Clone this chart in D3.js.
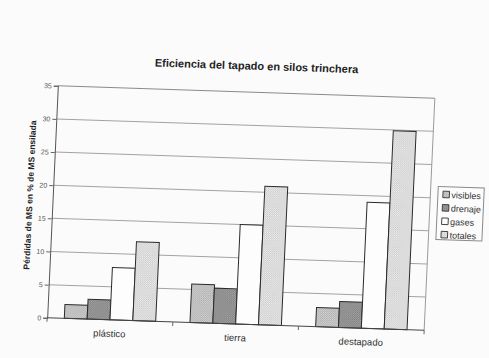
<!DOCTYPE html>
<html>
<head>
<meta charset="utf-8">
<script src="https://cdn.jsdelivr.net/npm/d3@7/dist/d3.min.js"></script>
<style>
  html, body { margin: 0; padding: 0; background: #fbfbfb; }
  svg { display: block; }
  text { font-family: "Liberation Sans", Arial, sans-serif; }
</style>
</head>
<body>
<script>
// Pérdidas de materia seca según el tipo de tapado del silo
const categories = ["plástico", "tierra", "destapado"];
const seriesNames = ["visibles", "drenaje", "gases", "totales"];
const visibles = [2.1, 5.8, 2.9];
const drenaje  = [3.0, 5.3, 3.9];
const gases    = [7.9, 15.0, 19.0];
const totales  = [11.9, 20.9, 29.9];
const yTicks   = [0, 5, 10, 15, 20, 25, 30, 35];

const seriesValues = [visibles, drenaje, gases, totales];

const W = 489, H = 358;
const plot = { left: 52.5, top: 92, width: 377, height: 232 };

const svg = d3.select("body").append("svg")
  .attr("width", W).attr("height", H);

// fill textures for the four series
const defs = svg.append("defs");
function stipple(id, base, dot, step) {
  const p = defs.append("pattern").attr("id", id)
    .attr("width", step).attr("height", step)
    .attr("patternUnits", "userSpaceOnUse");
  p.append("rect").attr("width", step).attr("height", step).attr("fill", base);
  p.append("rect").attr("x", 0).attr("y", 0).attr("width", 1).attr("height", 1).attr("fill", dot);
  p.append("rect").attr("x", step / 2).attr("y", step / 2).attr("width", 1).attr("height", 1).attr("fill", dot);
  return `url(#${id})`;
}
const fills = [
  stipple("p-vis", "#d4d4d4", "#acacac", 2),
  stipple("p-dre", "#a6a6a6", "#7c7c7c", 2),
  "#fdfdfd",
  stipple("p-tot", "#efefef", "#c8c8c8", 2)
];

// the whole page sits slightly tilted
const cx = 241, cy = 208;
const g = svg.append("g")
  .attr("transform", `translate(${cx},${cy}) matrix(1,0.033,-0.046,1,0,0) translate(${-cx},${-cy})`);

const x0 = d3.scaleBand().domain(categories)
  .range([plot.left, plot.left + plot.width]).paddingInner(0).paddingOuter(0);
const x1 = d3.scaleBand().domain(seriesNames)
  .range([0, x0.bandwidth()]).paddingInner(0).paddingOuter(0.75);
const y = d3.scaleLinear().domain([0, 35])
  .range([plot.top + plot.height, plot.top]);

// gridlines
g.append("g").selectAll("line").data(yTicks.filter(t => t > 0)).join("line")
  .attr("x1", plot.left).attr("x2", plot.left + plot.width)
  .attr("y1", d => y(d)).attr("y2", d => y(d))
  .attr("stroke", d => d === 35 ? "#8a8a8a" : "#a2a2a2").attr("stroke-width", 1);

// right border of the plot area
g.append("line")
  .attr("x1", plot.left + plot.width).attr("x2", plot.left + plot.width)
  .attr("y1", plot.top).attr("y2", plot.top + plot.height)
  .attr("stroke", "#9a9a9a").attr("stroke-width", 1);

// y axis
const yAxis = g.append("g").attr("transform", `translate(${plot.left},0)`)
  .call(d3.axisLeft(y).tickValues(yTicks).tickSize(4).tickPadding(2));
yAxis.select(".domain").attr("stroke", "#555");
yAxis.selectAll(".tick line").attr("stroke", "#666");
yAxis.selectAll(".tick text")
  .attr("font-size", "7px").attr("fill", "#555")
  .style("font-family", "'Liberation Sans', Arial, sans-serif");

// bars
const groups = g.append("g").selectAll("g").data(categories).join("g")
  .attr("transform", c => `translate(${x0(c)},0)`);
groups.selectAll("rect")
  .data((c, ci) => seriesNames.map((s, si) => ({ s, si, v: seriesValues[si][ci] })))
  .join("rect")
  .attr("x", d => x1(d.s))
  .attr("width", x1.bandwidth())
  .attr("y", d => y(d.v))
  .attr("height", d => y(0) - y(d.v))
  .attr("fill", d => fills[d.si])
  .attr("stroke", "#2a2a2a").attr("stroke-width", 1);

// x axis with ticks between categories
const xAxisG = g.append("g");
xAxisG.append("line")
  .attr("x1", plot.left).attr("x2", plot.left + plot.width)
  .attr("y1", y(0)).attr("y2", y(0))
  .attr("stroke", "#444").attr("stroke-width", 1);
const boundaries = categories.map(c => x0(c)).concat([x0(categories[categories.length - 1]) + x0.bandwidth()]);
xAxisG.selectAll("line.tk").data(boundaries).join("line").attr("class", "tk")
  .attr("x1", d => d).attr("x2", d => d)
  .attr("y1", y(0)).attr("y2", y(0) + 4)
  .attr("stroke", "#666");
xAxisG.selectAll("text").data(categories).join("text")
  .attr("x", c => x0(c) + x0.bandwidth() / 2)
  .attr("y", y(0) + 17)
  .attr("text-anchor", "middle")
  .attr("font-size", "9.5px").attr("fill", "#333")
  .text(c => c);

// title
g.append("text")
  .attr("x", 250).attr("y", 69.5)
  .attr("text-anchor", "middle")
  .attr("font-size", "11px").attr("font-weight", "bold").attr("fill", "#222")
  .text("Eficiencia del tapado en silos trinchera");

// y axis title
g.append("text")
  .attr("transform", "translate(32.5,202) rotate(-90)")
  .attr("text-anchor", "middle")
  .attr("font-size", "8.5px").attr("font-weight", "bold").attr("fill", "#222")
  .text("Pérdidas de MS en % de MS ensilada");

// legend
const leg = g.append("g").attr("transform", "translate(437,180)");
leg.append("rect").attr("width", 46).attr("height", 53)
  .attr("fill", "#fcfcfc").attr("stroke", "#8a8a8a").attr("stroke-width", 1);
const items = leg.selectAll("g").data(seriesNames).join("g")
  .attr("transform", (d, i) => `translate(5,${8 + i * 13.4})`);
items.append("rect").attr("x", 0).attr("y", -3.5).attr("width", 6.5).attr("height", 6.5)
  .attr("fill", (d, i) => fills[i]).attr("stroke", "#333").attr("stroke-width", 0.9);
items.append("text").attr("x", 8.5).attr("y", 3.3)
  .attr("font-size", "9px").attr("fill", "#333")
  .text(d => d);
</script>
</body>
</html>
